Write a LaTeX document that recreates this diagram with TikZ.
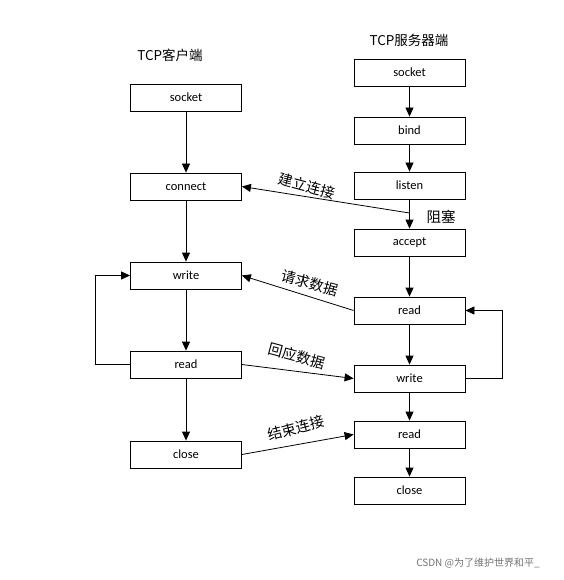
\documentclass[tikz,border=0pt]{standalone}
\usepackage{fontspec}
\setmainfont{Carlito}
\newfontfamily\cjk{Noto Sans CJK SC}
\usetikzlibrary{arrows.meta}
\begin{document}
\begin{tikzpicture}[x=1pt,y=-1pt,
  box/.style={draw,line width=0.8pt,minimum width=111pt,minimum height=27pt,inner sep=0pt,font=\fontsize{12.5}{14}\selectfont},
  arr/.style={-{Triangle[length=9pt,width=8pt]},line width=0.8pt},
  lab/.style={font=\cjk\fontsize{14.5}{16}\selectfont},
  ttl/.style={font=\cjk\fontsize{13.5}{16}\selectfont}]
\useasboundingbox (0,0) rectangle (563,580);
% left
\node[box] (ls) at (186,97.5) {socket};
\node[box] (lc) at (186,186.5) {connect};
\node[box] (lw) at (186,275.5) {write};
\node[box] (lr) at (186,364.5) {read};
\node[box] (lx) at (186,454.5) {close};
% right
\node[box] (rs) at (409.5,72.5) {socket};
\node[box] (rb) at (409.5,130.5) {bind};
\node[box] (rl) at (409.5,185.5) {listen};
\node[box] (ra) at (409.5,242.5) {accept};
\node[box] (rr) at (409.5,310.5) {read};
\node[box] (rw) at (409.5,378.5) {write};
\node[box] (rr2) at (409.5,434.5) {read};
\node[box] (rx) at (409.5,490.5) {close};
% titles
\node[ttl] (t1) at (170,55) {TCP客户端};
\node[ttl] (t2) at (409,40) {TCP服务器端};
% vertical arrows
\draw[arr] (ls) -- (lc);
\draw[arr] (lc) -- (lw);
\draw[arr] (lw) -- (lr);
\draw[arr] (lr) -- (lx);
\draw[arr] (rs) -- (rb);
\draw[arr] (rb) -- (rl);
\draw[arr] (rl) -- (ra);
\draw[arr] (ra) -- (rr);
\draw[arr] (rr) -- (rw);
\draw[arr] (rw) -- (rr2);
\draw[arr] (rr2) -- (rx);
% cross arrows
\coordinate (blk) at (409.5,213);
\draw[arr] (blk) -- (lc.east);
\draw[arr] (rr.west) -- (lw.east);
\draw[arr] (lr.east) -- (rw.west);
\draw[arr] (lx.east) -- (rr2.west);
% loops
\draw[arr] (lr.west) -- (95,364.5) -- (95,275.5) -- (lw.west);
\draw[arr] (rw.east) -- (502,378.5) -- (502,310.5) -- (rr.east);
% labels
\node[lab,rotate=-15] (l1) at (307,186) {建立连接};
\node[lab] (l2) at (441,217) {阻塞};
\node[lab,rotate=-15] (l3) at (310,283) {请求数据};
\node[lab,rotate=-15] (l4) at (297,356) {回应数据};
\node[lab,rotate=15] (l5) at (296,428) {结束连接};
\node[font=\cjk\fontsize{10}{12}\selectfont,text=black!55] (wm) at (478,563) {CSDN @为了维护世界和平\_};
\end{tikzpicture}
\end{document}
